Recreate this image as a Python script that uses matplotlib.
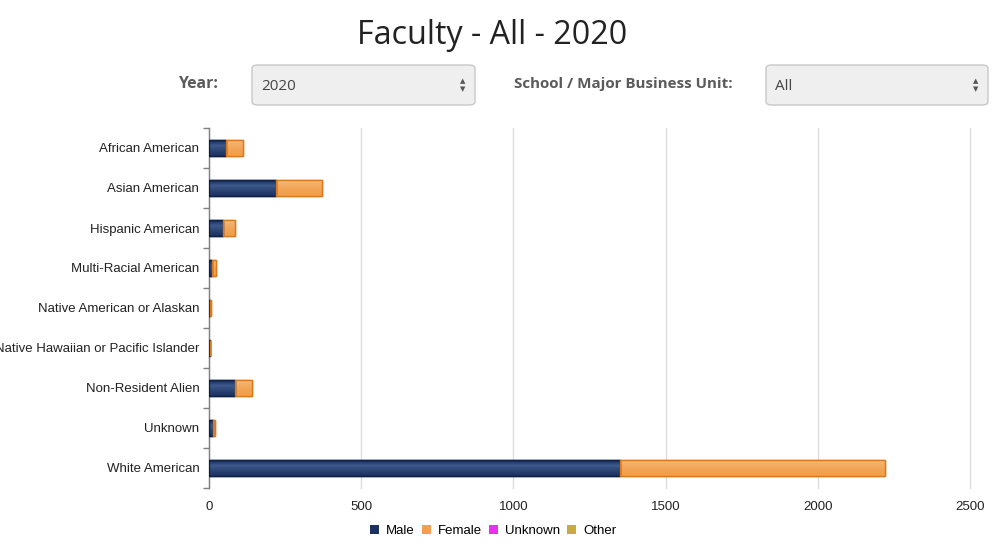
import matplotlib
matplotlib.use("Agg")
import matplotlib.pyplot as plt
from matplotlib.patches import FancyBboxPatch
from matplotlib.colors import LinearSegmentedColormap
import numpy as np

categories = ["African American", "Asian American", "Hispanic American",
              "Multi-Racial American", "Native American or Alaskan",
              "Native Hawaiian or Pacific Islander", "Non-Resident Alien",
              "Unknown", "White American"]
male = [56, 221, 46, 11, 2, 2, 85, 13, 1350]
female = [56, 150, 40, 11, 3, 1, 55, 7, 871]
unknown = [0, 0, 0, 0, 0, 0, 0, 0, 0]
other = [0, 0, 0, 0, 0, 0, 0, 0, 0]
series_names = ["Male", "Female", "Unknown", "Other"]
series_colors = ["#1b325e", "#f2a04e", "#e831e8", "#c9a84c"]
edge_colors = ["#0d1f45", "#d9781c", "#b020b0", "#a08030"]
gradients = [["#16295a", "#3d5a8c", "#2a4574", "#1a3160"],
             ["#f7b87c", "#f4ab62", "#f2a250", "#f0a04c"],
             ["#f060f0", "#e831e8", "#e020e0", "#d010d0"],
             ["#d8bb66", "#c9a84c", "#c0a040", "#b89838"]]
xticks = [0, 500, 1000, 1500, 2000, 2500]
title = "Faculty - All - 2020"
year_label, year_value = "Year:", "2020"
unit_label, unit_value = "School / Major Business Unit:", "All"

W, H = 1000, 557
fig = plt.figure(figsize=(W / 100, H / 100), dpi=100)

# Title
fig.text(492 / W, 1 - 36 / H, title, ha="center", va="center",
         fontsize=23.2, family="Open Sans", color="#222222")

# Dropdown controls
def dropdown(x0, x1, y0, y1, value):
    box = FancyBboxPatch((x0 / W, 1 - y1 / H), (x1 - x0) / W, (y1 - y0) / H,
                         boxstyle="round,pad=0,rounding_size=0.006",
                         transform=fig.transFigure, facecolor="#efefef",
                         edgecolor="#c8c8c8", linewidth=1.0)
    fig.patches.append(box)
    grad = np.linspace(0.90, 0.98, 50).reshape(-1, 1)
    axg = fig.add_axes([(x0 + 2) / W, 1 - (y1 - 2) / H, (x1 - x0 - 4) / W, (y1 - y0 - 4) / H])
    axg.imshow(np.dstack([grad, grad, grad]), aspect="auto", extent=(0, 1, 0, 1))
    axg.axis("off")
    fig.text((x0 + 9) / W, 1 - ((y0 + y1) / 2 + 1) / H, value, ha="left", va="center",
             fontsize=11, family="Open Sans", color="#444444")
    fig.text((x1 - 12) / W, 1 - ((y0 + y1) / 2 - 4) / H, "▲", ha="center", va="center",
             fontsize=5, family="DejaVu Sans", color="#555555")
    fig.text((x1 - 12) / W, 1 - ((y0 + y1) / 2 + 4) / H, "▼", ha="center", va="center",
             fontsize=5, family="DejaVu Sans", color="#555555")

fig.text(219 / W, 1 - 84 / H, year_label, ha="right", va="center",
         fontsize=11.3, family="Open Sans", weight="bold", color="#5a5a5a")
dropdown(252, 475, 65, 105, year_value)
fig.text(733 / W, 1 - 84 / H, unit_label, ha="right", va="center",
         fontsize=10.9, family="Open Sans", weight="bold", color="#5a5a5a")
dropdown(766, 988, 65, 105, unit_value)

# Chart
ax = fig.add_axes([209 / W, 1 - 488 / H, (970 - 209) / W, (488 - 128) / H])
y = np.arange(len(categories))
left = np.zeros(len(categories))
for vals, name, c, ec, gstops in zip([male, female, unknown, other], series_names,
                                     series_colors, edge_colors, gradients):
    v = np.array(vals, dtype=float)
    lw = [1.0 if val > 0 else 0 for val in v]
    bars = ax.barh(y, v, left=left, height=0.4, color=c, edgecolor=ec,
                   linewidth=lw, label=name, zorder=3)
    cmap = LinearSegmentedColormap.from_list(name, gstops)
    grad = np.linspace(0, 1, 64).reshape(-1, 1)
    for b, val in zip(bars, v):
        if val <= 0:
            continue
        bx, by = b.get_x(), b.get_y()
        bw, bh = b.get_width(), b.get_height()
        im = ax.imshow(grad, cmap=cmap, aspect="auto",
                       extent=(bx, bx + bw, by + bh, by), zorder=3.5,
                       interpolation="bilinear")
        im.set_clip_path(b)
        ax.barh(b.get_y() + bh / 2, bw, left=bx, height=bh, color="none",
                edgecolor=ec, linewidth=1.0, zorder=4)
    left += v

ax.set_aspect("auto")
ax.set_ylim(len(categories) - 0.5, -0.5)
ax.set_xlim(0, 2500)
ax.set_xticks(xticks)
ax.set_xticklabels([str(t) for t in xticks], fontsize=9.5, family="Liberation Sans",
                   color="#222222")
ax.set_yticks(y)
ax.set_yticklabels(categories, fontsize=9.5, family="Liberation Sans", color="#222222")
ax.tick_params(axis="y", length=0, pad=7)
ax.tick_params(axis="x", length=0, pad=9)
ax.set_yticks(np.arange(-0.5, len(categories)), minor=True)
ax.tick_params(axis="y", which="minor", length=4, color="#808080", width=1)
ax.grid(axis="x", color="#dcdcdc", linewidth=1, zorder=0)
for gl in ax.get_xgridlines():
    gl.set_clip_on(False)
for s in ["top", "right", "bottom"]:
    ax.spines[s].set_visible(False)
ax.spines["left"].set_color("#808080")
ax.spines["left"].set_linewidth(1)

leg = fig.legend(loc="center", bbox_to_anchor=(493 / W, 1 - 531 / H), ncol=4,
                 frameon=False, prop={"family": "Liberation Sans", "size": 9.5},
                 handlelength=0.7, handleheight=0.7, handletextpad=0.5,
                 columnspacing=0.55)
for h, c in zip(leg.legend_handles, series_colors):
    h.set_edgecolor("none")
    h.set_facecolor(c)

fig.savefig("out.png", dpi=100)
